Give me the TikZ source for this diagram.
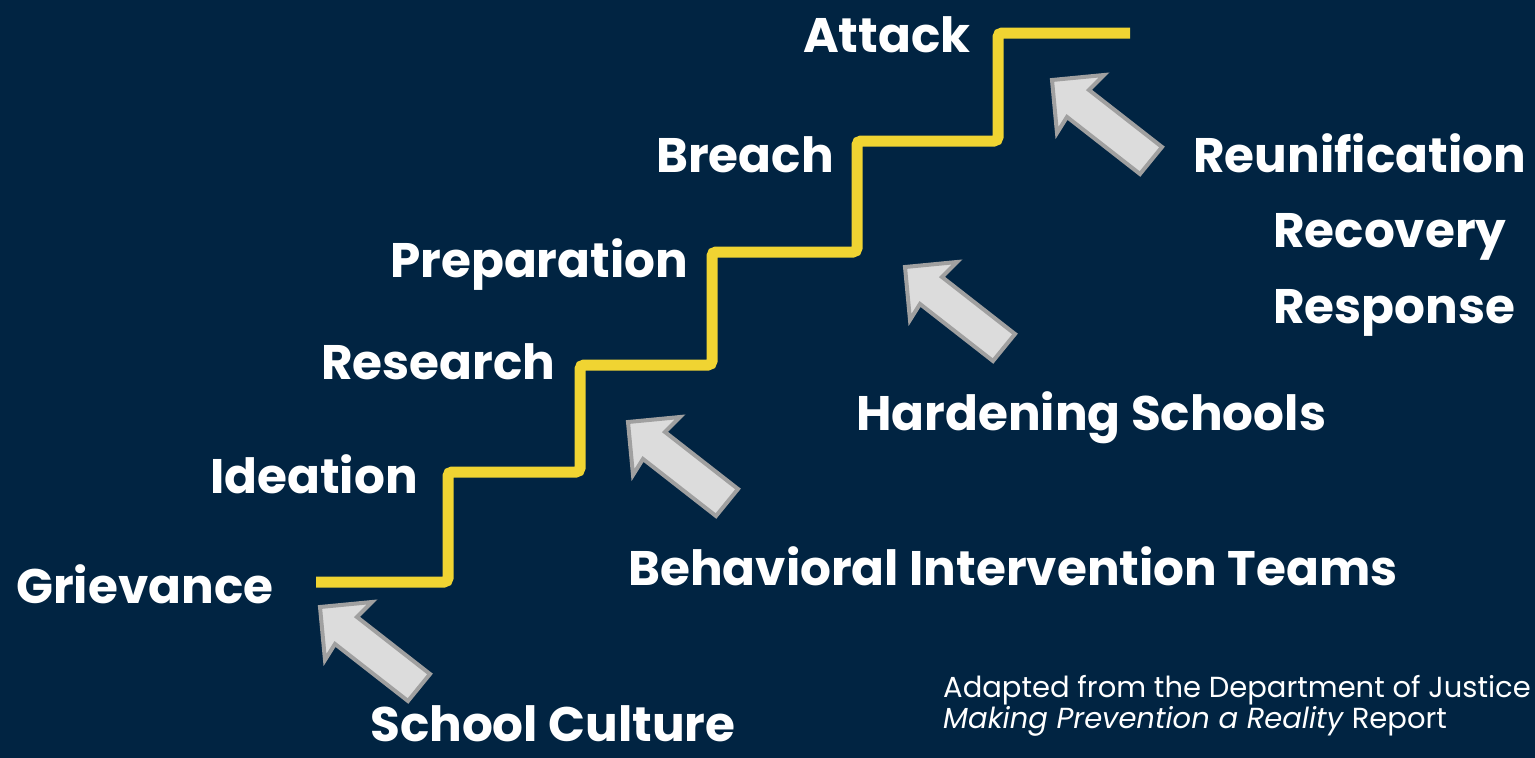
\documentclass[tikz,border=0pt]{standalone}
\usepackage{fontspec}
\setmainfont{Poppins}
\definecolor{navy}{RGB}{1,36,66}
\definecolor{stairyellow}{RGB}{240,212,50}
\definecolor{arrowfill}{RGB}{220,220,220}
\definecolor{arrowedge}{RGB}{160,160,160}

\begin{document}
\begin{tikzpicture}[x=1pt,y=-1pt]
\tikzstyle{every node}+=[inner sep=0pt, text=white]
\tikzstyle{stage}=[anchor=base west, font=\fontsize{48.5}{48.5}\selectfont\bfseries]
\tikzstyle{note}=[anchor=base west, font=\fontsize{29}{29}\selectfont]
\tikzstyle{stair}=[stairyellow, line width=11, rounded corners=4]
\tikzstyle{blockarrow}=[fill=arrowfill, draw=arrowedge, line width=4, line join=miter]

\useasboundingbox (0,0) rectangle (1535,758);
\fill [navy] (0,0) rectangle (1535,758);

% the staircase
\draw [stair] (316,582) -- (448,582) -- (448,472) -- (580,472) -- (580,365)
  -- (712,365) -- (712,252) -- (857,252) -- (857,141) -- (998,141)
  -- (998,33) -- (1130,33);

% steps
\node [stage] (grievance) at (16,603) {Grievance};
\node [stage] (ideation) at (210,493) {Ideation};
\node [stage] (research) at (321,379) {Research};
\node [stage] (preparation) at (390,277) {Preparation};
\node [stage] (breach) at (656,172) {Breach};
\node [stage] (attack) at (803,52) {Attack};

% grey arrows, tip first
\foreach \tx/\ty in {320/607, 628/422, 905/267, 1052/80}
  \draw [blockarrow, shift={(\tx,\ty)}] (0,0) -- (52,-5) -- (37,10)
    -- (110,67) -- (88,94) -- (15,37) -- (5,53) -- cycle;

% what stops each step
\node [stage] (culture) at (370,741) {School Culture};
\node [stage] (bit) at (628,585) {Behavioral Intervention Teams};
\node [stage] (hardening) at (856,430) {Hardening Schools};
\node [stage] (reunification) at (1193,172) {Reunification};
\node [stage] (recovery) at (1273,247) {Recovery};
\node [stage] (response) at (1273,323) {Response};

\node [note] (source) at (943,697) {Adapted from the Department of Justice};
\node [note] (report) at (943,728) {\textit{Making Prevention a Reality} Report};
\end{tikzpicture}
\end{document}
